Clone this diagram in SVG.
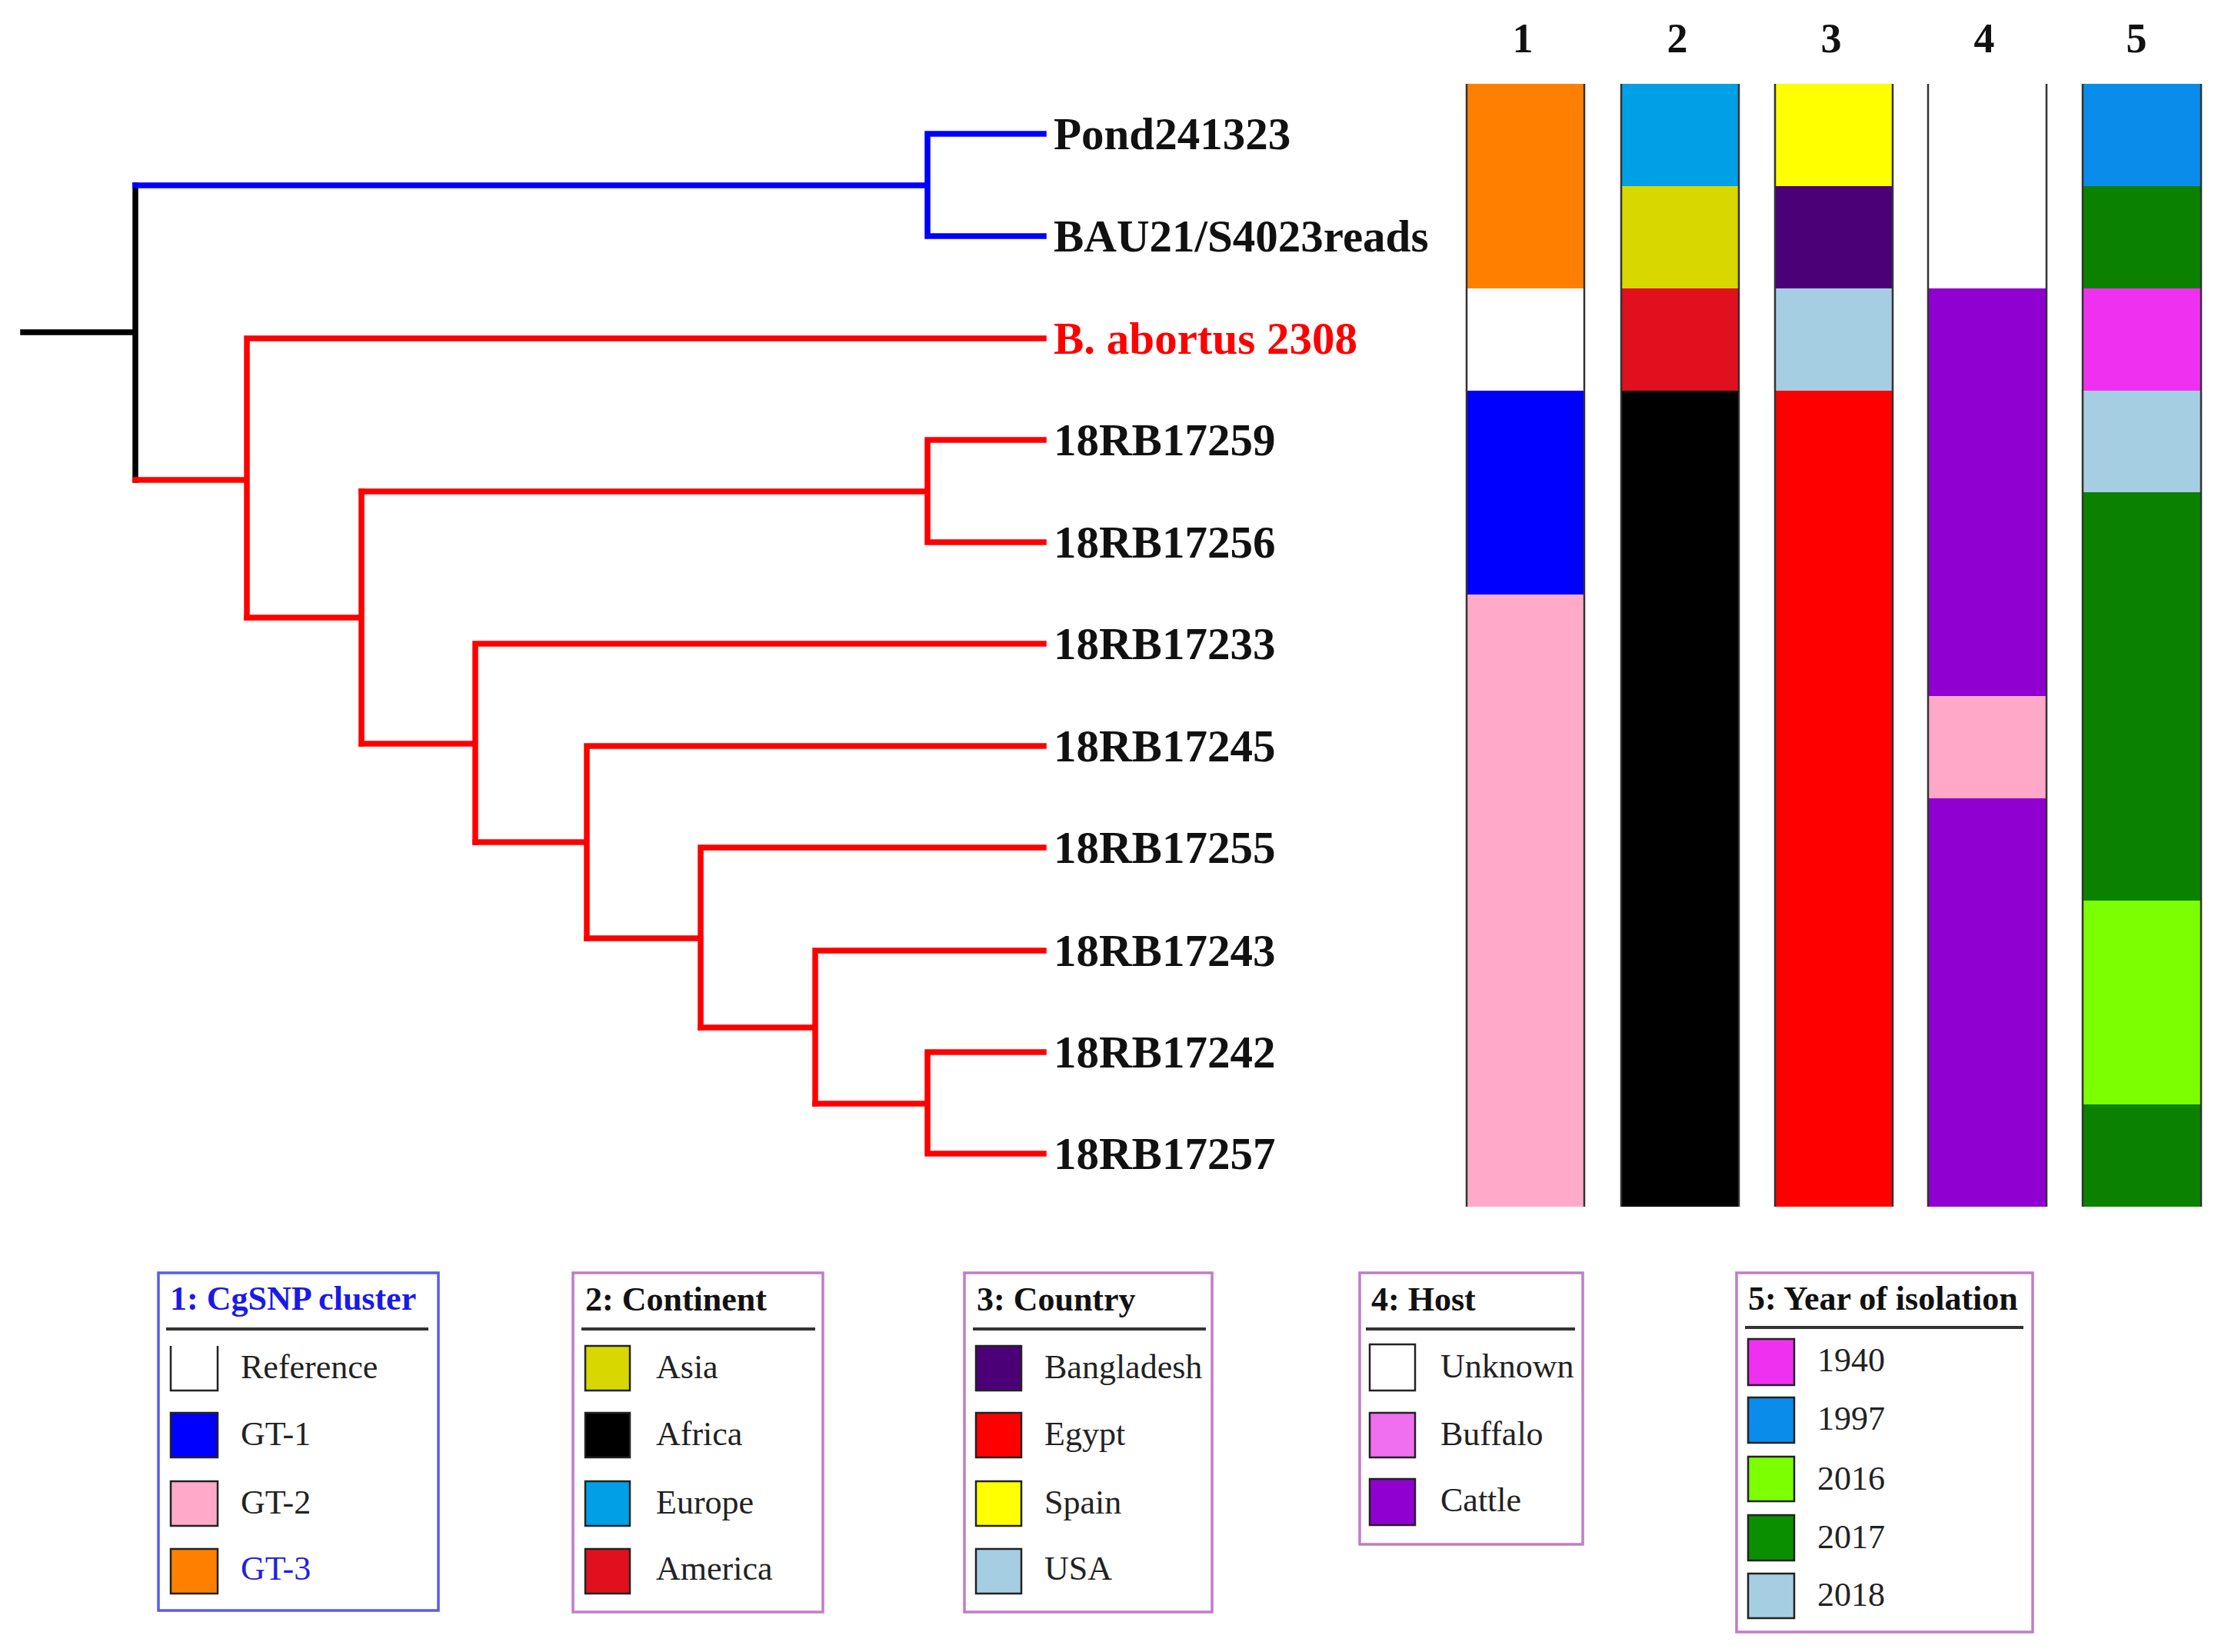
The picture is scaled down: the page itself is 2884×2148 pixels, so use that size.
<svg xmlns="http://www.w3.org/2000/svg" width="2884" height="2148" viewBox="0 0 2884 2148">
<style>
.leaf{font-family:"Liberation Serif","Times New Roman",serif;font-weight:bold;font-size:59px;fill:#111}
.hdr{font-family:"Liberation Serif","Times New Roman",serif;font-weight:bold;font-size:54px;fill:#111;text-anchor:middle}
.lt{font-family:"Liberation Serif","Times New Roman",serif;font-weight:bold;font-size:44px;fill:#111}
.li{font-family:"Liberation Serif","Times New Roman",serif;font-size:44px;fill:#222}
.br{fill:none;stroke-width:7.5;stroke-linecap:square}
.blue{stroke:#0000ff}.red{stroke:#ff0000}.blk{stroke:#000}
.edge{stroke:#333;stroke-width:2.5}
.sw{stroke:#222;stroke-width:2.5}
.box{fill:#fff;stroke:#c07cc8;stroke-width:3.5}
.sep{stroke:#333;stroke-width:4}
</style>
<rect width="2884" height="2148" fill="#fff"/>

<g id="connectors">
  <path class="br blk" d="M30,432 H176 M176,241 V624"/>
  <path class="br blue" d="M176,241 H1206 M1206,174 V307 M1206,174 H1357 M1206,307 H1357"/>
  <path class="br red" d="M176,624 H321 M321,440 V803 M321,440 H1357"/>
  <path class="br red" d="M321,803 H470 M470,639 V967"/>
  <path class="br red" d="M470,639 H1206 M1206,572 V705 M1206,572 H1357 M1206,705 H1357"/>
  <path class="br red" d="M470,967 H618 M618,837 V1095 M618,837 H1357"/>
  <path class="br red" d="M618,1095 H763 M763,970 V1220 M763,970 H1357"/>
  <path class="br red" d="M763,1220 H911 M911,1102 V1336 M911,1102 H1357"/>
  <path class="br red" d="M911,1336 H1060 M1060,1236 V1435 M1060,1236 H1357"/>
  <path class="br red" d="M1060,1435 H1206 M1206,1368 V1500 M1206,1368 H1357 M1206,1500 H1357"/>
</g>

<g id="leaf-Pond241323"><text class="leaf" x="1370" y="194">Pond241323</text></g>
<g id="leaf-BAU21"><text class="leaf" x="1370" y="327">BAU21/S4023reads</text></g>
<g id="leaf-B2308"><text class="leaf" x="1370" y="460" style="fill:#ff0000">B. abortus 2308</text></g>
<g id="leaf-18RB17259"><text class="leaf" x="1370" y="592">18RB17259</text></g>
<g id="leaf-18RB17256"><text class="leaf" x="1370" y="725">18RB17256</text></g>
<g id="leaf-18RB17233"><text class="leaf" x="1370" y="857">18RB17233</text></g>
<g id="leaf-18RB17245"><text class="leaf" x="1370" y="990">18RB17245</text></g>
<g id="leaf-18RB17255"><text class="leaf" x="1370" y="1122">18RB17255</text></g>
<g id="leaf-18RB17243"><text class="leaf" x="1370" y="1256">18RB17243</text></g>
<g id="leaf-18RB17242"><text class="leaf" x="1370" y="1388">18RB17242</text></g>
<g id="leaf-18RB17257"><text class="leaf" x="1370" y="1520">18RB17257</text></g>

<g id="column-headers">
  <text class="hdr" x="1980" y="68">1</text>
  <text class="hdr" x="2181" y="68">2</text>
  <text class="hdr" x="2381" y="68">3</text>
  <text class="hdr" x="2580" y="68">4</text>
  <text class="hdr" x="2778" y="68">5</text>
</g>

<g id="column-1">
  <rect x="1907" y="109" width="153" height="266" fill="#ff8000"/>
  <rect x="1907" y="375" width="153" height="133" fill="#fff"/>
  <rect x="1907" y="508" width="153" height="265" fill="#0000ff"/>
  <rect x="1907" y="773" width="153" height="796" fill="#ffaac8"/>
  <path class="edge" d="M1907,109 V1569 M2060,109 V1569"/>
</g>
<g id="column-2">
  <rect x="2108" y="109" width="153" height="133" fill="#00a0e6"/>
  <rect x="2108" y="242" width="153" height="133" fill="#d8d800"/>
  <rect x="2108" y="375" width="153" height="133" fill="#e0101e"/>
  <rect x="2108" y="508" width="153" height="1061" fill="#000"/>
  <path class="edge" d="M2108,109 V1569 M2261,109 V1569"/>
</g>
<g id="column-3">
  <rect x="2308" y="109" width="153" height="133" fill="#ffff00"/>
  <rect x="2308" y="242" width="153" height="133" fill="#4b0078"/>
  <rect x="2308" y="375" width="153" height="133" fill="#a6cee3"/>
  <rect x="2308" y="508" width="153" height="1061" fill="#ff0000"/>
  <path class="edge" d="M2308,109 V1569 M2461,109 V1569"/>
</g>
<g id="column-4">
  <rect x="2507" y="109" width="154" height="266" fill="#fff"/>
  <rect x="2507" y="375" width="154" height="530" fill="#9000d0"/>
  <rect x="2507" y="905" width="154" height="133" fill="#ffa8c8"/>
  <rect x="2507" y="1038" width="154" height="531" fill="#9000d0"/>
  <path class="edge" d="M2507,109 V1569 M2661,109 V1569"/>
</g>
<g id="column-5">
  <rect x="2708" y="109" width="154" height="133" fill="#0a8ceb"/>
  <rect x="2708" y="242" width="154" height="133" fill="#0a8200"/>
  <rect x="2708" y="375" width="154" height="133" fill="#f030f0"/>
  <rect x="2708" y="508" width="154" height="132" fill="#a6cee3"/>
  <rect x="2708" y="640" width="154" height="531" fill="#0a8200"/>
  <rect x="2708" y="1171" width="154" height="265" fill="#7cff00"/>
  <rect x="2708" y="1436" width="154" height="133" fill="#0a8200"/>
  <path class="edge" d="M2708,109 V1569 M2862,109 V1569"/>
</g>

<g id="legend-1">
  <rect x="206" y="1655" width="364" height="439" fill="#fff" stroke="#5a5af0" stroke-width="3.5"/>
  <text class="lt" x="221" y="1703" style="fill:#1a1ae6">1: CgSNP cluster</text>
  <line class="sep" x1="216" y1="1728" x2="557" y2="1728"/>
  <path d="M222,1750 V1808 H283 V1750" fill="#fff" stroke="#222" stroke-width="2.5"/>
  <text class="li" x="313" y="1792">Reference</text>
  <rect class="sw" x="222" y="1837" width="61" height="58" fill="#0000ff"/>
  <text class="li" x="313" y="1879">GT-1</text>
  <rect class="sw" x="222" y="1926" width="61" height="58" fill="#ffaac8"/>
  <text class="li" x="313" y="1968">GT-2</text>
  <rect class="sw" x="222" y="2014" width="61" height="58" fill="#ff8000"/>
  <text class="li" x="313" y="2054" style="fill:#2020e0">GT-3</text>
</g>

<g id="legend-2">
  <rect class="box" x="745" y="1655" width="325" height="441"/>
  <text class="lt" x="761" y="1704">2: Continent</text>
  <line class="sep" x1="756" y1="1728" x2="1060" y2="1728"/>
  <rect class="sw" x="761" y="1750" width="58" height="58" fill="#d8d800"/>
  <text class="li" x="853" y="1792">Asia</text>
  <rect class="sw" x="761" y="1837" width="58" height="58" fill="#000"/>
  <text class="li" x="853" y="1879">Africa</text>
  <rect class="sw" x="761" y="1926" width="58" height="58" fill="#00a0e6"/>
  <text class="li" x="853" y="1968">Europe</text>
  <rect class="sw" x="761" y="2014" width="58" height="58" fill="#e0101e"/>
  <text class="li" x="853" y="2054">America</text>
</g>

<g id="legend-3">
  <rect class="box" x="1254" y="1655" width="322" height="441"/>
  <text class="lt" x="1270" y="1704">3: Country</text>
  <line class="sep" x1="1265" y1="1728" x2="1568" y2="1728"/>
  <rect class="sw" x="1269" y="1750" width="59" height="58" fill="#4b0078"/>
  <text class="li" x="1358" y="1792">Bangladesh</text>
  <rect class="sw" x="1269" y="1837" width="59" height="58" fill="#ff0000"/>
  <text class="li" x="1358" y="1879">Egypt</text>
  <rect class="sw" x="1269" y="1926" width="59" height="58" fill="#ffff00"/>
  <text class="li" x="1358" y="1968">Spain</text>
  <rect class="sw" x="1269" y="2014" width="59" height="58" fill="#a6cee3"/>
  <text class="li" x="1358" y="2054">USA</text>
</g>

<g id="legend-4">
  <rect class="box" x="1768" y="1655" width="290" height="353"/>
  <text class="lt" x="1783" y="1704">4: Host</text>
  <line class="sep" x1="1776" y1="1728" x2="2048" y2="1728"/>
  <rect class="sw" x="1781" y="1748" width="59" height="60" fill="#fff"/>
  <text class="li" x="1873" y="1791">Unknown</text>
  <rect class="sw" x="1781" y="1837" width="59" height="58" fill="#f06ef0"/>
  <text class="li" x="1873" y="1879">Buffalo</text>
  <rect class="sw" x="1781" y="1923" width="59" height="60" fill="#9000d0"/>
  <text class="li" x="1873" y="1965">Cattle</text>
</g>

<g id="legend-5">
  <rect class="box" x="2258" y="1655" width="385" height="467"/>
  <text class="lt" x="2273" y="1703">5: Year of isolation</text>
  <line class="sep" x1="2269" y1="1726" x2="2631" y2="1726"/>
  <rect class="sw" x="2273" y="1741" width="60" height="60" fill="#f030f0"/>
  <text class="li" x="2363" y="1783">1940</text>
  <rect class="sw" x="2273" y="1817" width="60" height="59" fill="#0a8ceb"/>
  <text class="li" x="2363" y="1859">1997</text>
  <rect class="sw" x="2273" y="1894" width="60" height="58" fill="#7cff00"/>
  <text class="li" x="2363" y="1937">2016</text>
  <rect class="sw" x="2273" y="1970" width="60" height="59" fill="#0a8f00"/>
  <text class="li" x="2363" y="2013">2017</text>
  <rect class="sw" x="2273" y="2046" width="60" height="58" fill="#a6cee3"/>
  <text class="li" x="2363" y="2088">2018</text>
</g>
</svg>
